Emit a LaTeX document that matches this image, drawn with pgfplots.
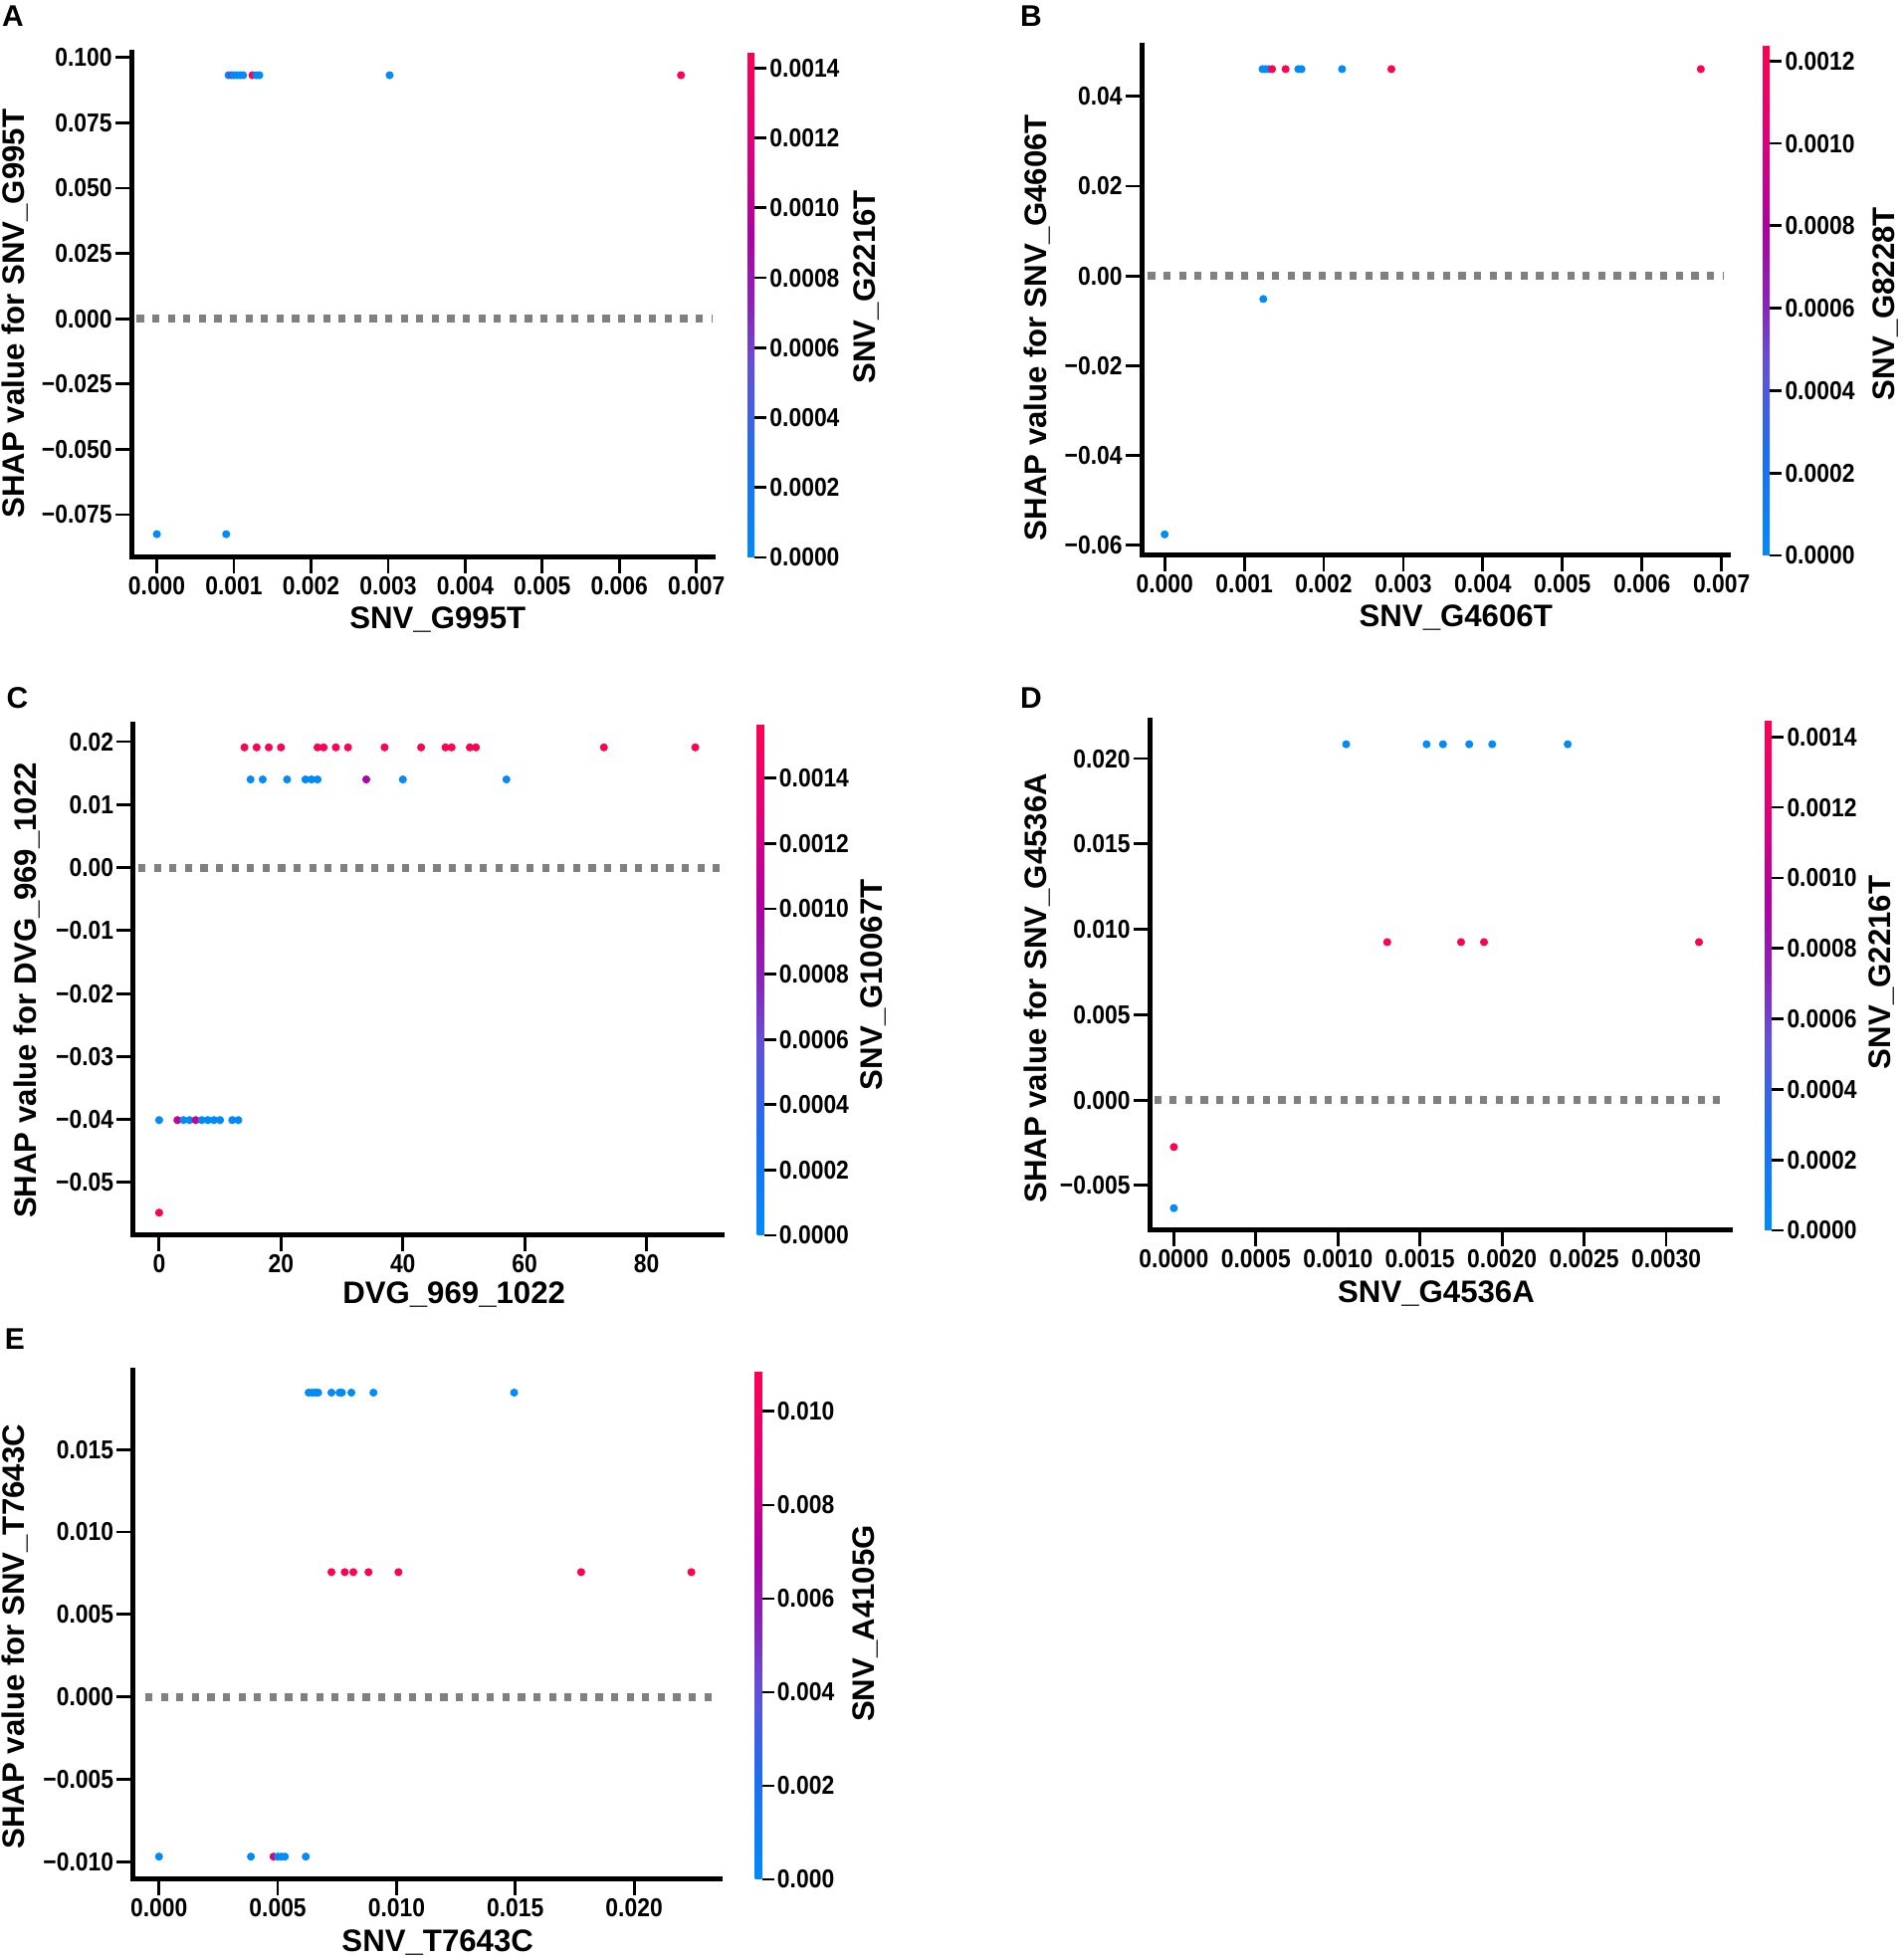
\documentclass[border=0pt]{standalone}
\usepackage{fontspec}
\setmainfont{Liberation Sans}
\newfontfamily\tickfam[FakeStretch=0.88]{Liberation Sans}
\usepackage{pgfplots}
\pgfplotsset{compat=1.18}
\newcommand\ticfont{\tickfam\bfseries\fontsize{13}{15}\selectfont}
\newcommand\labfont{\bfseries\fontsize{15.6}{18}\selectfont}
\newcommand\letfont{\bfseries\fontsize{15}{17}\selectfont}
\definecolor{zgray}{RGB}{128,128,128}
\pgfplotsset{
  colormap={shap}{rgb255(0pt)=(0,138,250) rgb255(20pt)=(30,110,240) rgb255(38pt)=(100,80,215) rgb255(50pt)=(138,35,185) rgb255(65pt)=(175,0,160) rgb255(80pt)=(220,0,125) rgb255(100pt)=(255,0,82)},
  shapax/.style={
    scale only axis, scaled ticks=false,
    axis x line*=bottom, axis y line*=left,
    axis line style={line width=2.5pt, line cap=rect, black},
    tick align=outside, major tick length=8pt,
    every tick/.append style={black, line width=1.4pt},
    tick label style={font=\ticfont, inner sep=1.5pt},
    label style={font=\labfont},
    xlabel style={anchor=center},
    ylabel style={anchor=center},
    clip=false,
    colormap name=shap,
    colorbar,
    colorbar style={
      scale only axis, width=3.5pt, scaled ticks=false,
      at={(parent axis.north east)}, anchor=north west, xshift=9pt,
      axis line style={draw=none},
      ytick pos=right, yticklabel pos=right,
      tick align=outside, major tick length=6pt,
      every tick/.append style={black, line width=1.4pt},
      yticklabel style={font=\ticfont, inner sep=1.5pt},
      ylabel style={font=\labfont, anchor=center},
    },
  },
  dots/.style={scatter, only marks, mark=*, mark size=1.8pt, point meta=explicit,
    scatter/use mapped color={draw=mapped color, fill=mapped color}},
  zline/.style={forget plot, zgray, line width=4pt, dash pattern=on 3.6pt off 4.2pt},
}
\begin{document}
\begin{tikzpicture}
\path[use as bounding box] (0,0) rectangle (955.5pt,984.5pt);
\node[font=\letfont] at (6.5pt,976.5pt) {A};
\node[font=\letfont] at (518pt,976.5pt) {B};
\node[font=\letfont] at (8.75pt,634pt) {C};
\node[font=\letfont] at (518pt,634pt) {D};
\node[font=\letfont] at (7.5pt,312pt) {E};

% ---------------- A
\begin{axis}[shapax, at={(66pt,704.5pt)}, anchor=south west, width=292pt, height=253.5pt,
  xmin=-0.00033, xmax=0.00721, ymin=-0.0914, ymax=0.1018,
  xtick={0,0.001,0.002,0.003,0.004,0.005,0.006,0.007},
  xticklabels={0.000,0.001,0.002,0.003,0.004,0.005,0.006,0.007},
  ytick={-0.075,-0.05,-0.025,0,0.025,0.05,0.075,0.1},
  yticklabels={−0.075,−0.050,−0.025,0.000,0.025,0.050,0.075,0.100},
  xlabel={SNV\_G995T}, ylabel={SHAP value for SNV\_G995T},
  xlabel style={at={(axis description cs:0.527,-0.1243)}},
  ylabel style={at={(axis description cs:-0.2003,0.483)}},
  point meta min=0, point meta max=0.001444,
  colorbar style={ytick={0,0.0002,0.0004,0.0006,0.0008,0.001,0.0012,0.0014},
    yticklabels={0.0000,0.0002,0.0004,0.0006,0.0008,0.0010,0.0012,0.0014},
    ylabel={SNV\_G2216T}, ylabel style={at={(axis description cs:17,0.536)}}},
]
\addplot[zline] coordinates {(-0.00026,0) (0.0072,0)};
\addplot[dots] table[meta=c] {
x y c
0.00093 0.0932 0
0.00097 0.0932 0.00058
0.00100 0.0932 0
0.00104 0.0932 0
0.00108 0.0932 0
0.00112 0.0932 0
0.00124 0.0932 0.001444
0.00129 0.0932 0
0.00133 0.0932 0
0.00302 0.0932 0
0.00680 0.0932 0.001444
0.00000 -0.0825 0
0.00090 -0.0825 0
};
\end{axis}

% ---------------- B
\begin{axis}[shapax, at={(573.5pt,705.5pt)}, anchor=south west, width=294.5pt, height=256pt,
  xmin=-0.00029, xmax=0.00708, ymin=-0.0623, ymax=0.0513,
  xtick={0,0.001,0.002,0.003,0.004,0.005,0.006,0.007},
  xticklabels={0.000,0.001,0.002,0.003,0.004,0.005,0.006,0.007},
  ytick={-0.06,-0.04,-0.02,0,0.02,0.04},
  yticklabels={−0.06,−0.04,−0.02,0.00,0.02,0.04},
  xlabel={SNV\_G4606T}, ylabel={SHAP value for SNV\_G4606T},
  xlabel style={at={(axis description cs:0.536,-0.123)}},
  ylabel style={at={(axis description cs:-0.1783,0.447)}},
  point meta min=0, point meta max=0.001237,
  colorbar style={ytick={0,0.0002,0.0004,0.0006,0.0008,0.001,0.0012},
    yticklabels={0.0000,0.0002,0.0004,0.0006,0.0008,0.0010,0.0012},
    ylabel={SNV\_G8228T}, ylabel style={at={(axis description cs:17.57,0.494)}}},
]
\addplot[zline] coordinates {(-0.00021,0) (0.00703,0)};
\addplot[dots] table[meta=c] {
x y c
0.00123 0.0461 0
0.00127 0.0461 0
0.00131 0.0461 0
0.00135 0.0461 0.001237
0.00152 0.0461 0.001237
0.00168 0.0461 0
0.00172 0.0461 0
0.00223 0.0461 0
0.00285 0.0461 0.001237
0.00674 0.0461 0.001237
0.00124 -0.00515 0
0.00000 -0.0576 0
};
\end{axis}

% ---------------- C
\begin{axis}[shapax, at={(66.75pt,364pt)}, anchor=south west, width=296pt, height=256.8pt,
  xmin=-4.31, xmax=92.4, ymin=-0.0584, ymax=0.0228,
  xtick={0,20,40,60,80},
  xticklabels={0,20,40,60,80},
  ytick={-0.05,-0.04,-0.03,-0.02,-0.01,0,0.01,0.02},
  yticklabels={−0.05,−0.04,−0.03,−0.02,−0.01,0.00,0.01,0.02},
  xlabel={DVG\_969\_1022}, ylabel={SHAP value for DVG\_969\_1022},
  xlabel style={at={(axis description cs:0.545,-0.1168)}},
  ylabel style={at={(axis description cs:-0.179,0.479)}},
  point meta min=0, point meta max=0.001566,
  colorbar style={ytick={0,0.0002,0.0004,0.0006,0.0008,0.001,0.0012,0.0014},
    yticklabels={0.0000,0.0002,0.0004,0.0006,0.0008,0.0010,0.0012,0.0014},
    ylabel={SNV\_G10067T}, ylabel style={at={(axis description cs:16.71,0.49)}}},
]
\addplot[zline] coordinates {(-3.4,0) (92.4,0)};
\addplot[dots] table[meta=c] {
x y c
14 0.0191 0.001566
16 0.0191 0.001566
18 0.0191 0.001566
20 0.0191 0.001566
26 0.0191 0.001566
27 0.0191 0.001566
29 0.0191 0.001566
31 0.0191 0.001566
37 0.0191 0.001566
43 0.0191 0.001566
47 0.0191 0.001566
48 0.0191 0.001566
51 0.0191 0.001566
52 0.0191 0.001566
73 0.0191 0.001566
88 0.0191 0.001566
15 0.0140 0
17 0.0140 0
21 0.0140 0
24 0.0140 0
25 0.0140 0
26 0.0140 0
34 0.0140 0.00097
40 0.0140 0
57 0.0140 0
0 -0.0401 0
3 -0.0401 0.00117
4 -0.0401 0
5 -0.0401 0
6 -0.0401 0.00117
7 -0.0401 0
8 -0.0401 0
9 -0.0401 0
10 -0.0401 0
12 -0.0401 0
13 -0.0401 0
0 -0.0548 0.001566
};
\end{axis}

% ---------------- D
\begin{axis}[shapax, at={(577.5pt,366.5pt)}, anchor=south west, width=291.5pt, height=256pt,
  xmin=-0.000148, xmax=0.003388, ymin=-0.00763, ymax=0.02222,
  xtick={0,0.0005,0.001,0.0015,0.002,0.0025,0.003},
  xticklabels={0.0000,0.0005,0.0010,0.0015,0.0020,0.0025,0.0030},
  ytick={-0.005,0,0.005,0.01,0.015,0.02},
  yticklabels={−0.005,0.000,0.005,0.010,0.015,0.020},
  xlabel={SNV\_G4536A}, ylabel={SHAP value for SNV\_G4536A},
  xlabel style={at={(axis description cs:0.494,-0.125)}},
  ylabel style={at={(axis description cs:-0.1938,0.475)}},
  point meta min=0, point meta max=0.001446,
  colorbar style={ytick={0,0.0002,0.0004,0.0006,0.0008,0.001,0.0012,0.0014},
    yticklabels={0.0000,0.0002,0.0004,0.0006,0.0008,0.0010,0.0012,0.0014},
    ylabel={SNV\_G2216T}, ylabel style={at={(axis description cs:16.71,0.506)}}},
]
\addplot[zline] coordinates {(-0.00012,0) (0.00337,0)};
\addplot[dots] table[meta=c] {
x y c
0.00105 0.02084 0
0.00154 0.02084 0
0.00164 0.02084 0
0.00180 0.02084 0
0.00194 0.02084 0
0.00240 0.02084 0
0.00130 0.00925 0.001446
0.00175 0.00925 0.001446
0.00189 0.00925 0.001446
0.00320 0.00925 0.001446
0.00000 -0.00275 0.001446
0.00000 -0.00633 0
};
\end{axis}

% ---------------- E
\begin{axis}[shapax, at={(66.75pt,40.5pt)}, anchor=south west, width=295pt, height=255.5pt,
  xmin=-0.0011, xmax=0.02362, ymin=-0.01108, ymax=0.01978,
  xtick={0,0.005,0.01,0.015,0.02},
  xticklabels={0.000,0.005,0.010,0.015,0.020},
  ytick={-0.01,-0.005,0,0.005,0.01,0.015},
  yticklabels={−0.010,−0.005,0.000,0.005,0.010,0.015},
  xlabel={SNV\_T7643C}, ylabel={SHAP value for SNV\_T7643C},
  xlabel style={at={(axis description cs:0.519,-0.1252)}},
  ylabel style={at={(axis description cs:-0.2,0.477)}},
  point meta min=0, point meta max=0.01087,
  colorbar style={ytick={0,0.002,0.004,0.006,0.008,0.01},
    yticklabels={0.000,0.002,0.004,0.006,0.008,0.010},
    ylabel={SNV\_A4105G}, ylabel style={at={(axis description cs:15.86,0.503)}}},
]
\addplot[zline] coordinates {(-0.00058,0) (0.02349,0)};
\addplot[dots] table[meta=c] {
x y c
0.00630 0.01845 0
0.00644 0.01845 0
0.00658 0.01845 0
0.00670 0.01845 0
0.00726 0.01845 0
0.00760 0.01845 0
0.00770 0.01845 0
0.00810 0.01845 0
0.00903 0.01845 0
0.01495 0.01845 0
0.00726 0.00756 0.01087
0.00782 0.00756 0.01087
0.00818 0.00756 0.01087
0.00882 0.00756 0.01087
0.01008 0.00756 0.01087
0.01777 0.00756 0.01087
0.02241 0.00756 0.01087
0.00000 -0.0097 0
0.00387 -0.0097 0
0.00482 -0.0097 0.0092
0.00500 -0.0097 0
0.00515 -0.0097 0
0.00530 -0.0097 0
0.00618 -0.0097 0
};
\end{axis}
\end{tikzpicture}
\end{document}
